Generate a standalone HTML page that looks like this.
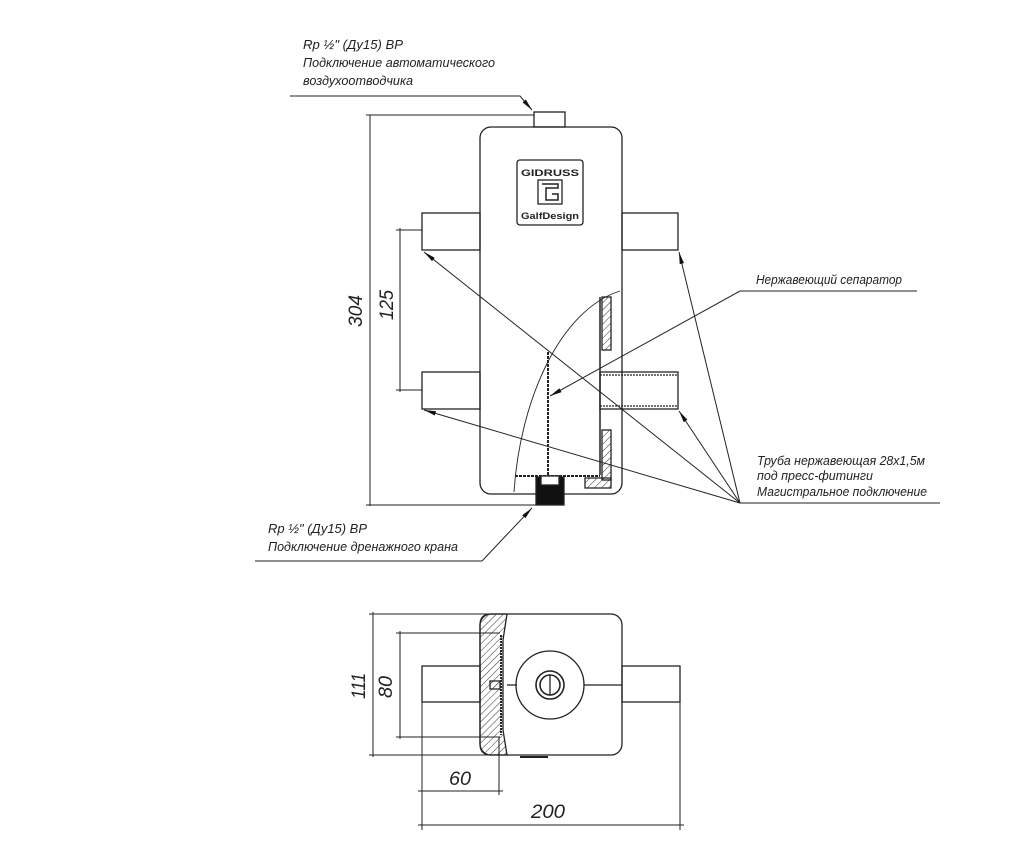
<!DOCTYPE html>
<html><head><meta charset="utf-8"><style>
html,body{margin:0;padding:0;background:#fff;}
svg{display:block;}
text{font-family:"Liberation Sans","DejaVu Sans",sans-serif;font-style:italic;fill:#222;}
</style></head><body>
<svg width="1024" height="849" viewBox="0 0 1024 849" xmlns="http://www.w3.org/2000/svg">
<defs>
<pattern id="h" width="5" height="5" patternUnits="userSpaceOnUse" patternTransform="rotate(45)">
<line x1="0" y1="0" x2="0" y2="5" stroke="#333" stroke-width="1"/></pattern>
<marker id="a" markerWidth="12" markerHeight="6" refX="12" refY="3" orient="auto" markerUnits="userSpaceOnUse">
<path d="M0,0.8 L12,3 L0,5.2 Z" fill="#111"/></marker>
</defs>
<g fill="none" stroke="#222" stroke-width="1.3">
<!-- main body front view -->
<rect x="480" y="127" width="142" height="367" rx="11"/>
<rect x="534" y="112" width="31" height="15"/>
<!-- pipes -->
<rect x="422" y="213" width="58" height="37"/>
<rect x="422" y="372" width="58" height="37"/>
<rect x="622" y="213" width="56" height="37"/>
<rect x="600" y="372" width="78" height="37"/>
<line x1="600" y1="375" x2="678" y2="375" stroke-dasharray="2 1"/>
<line x1="600" y1="406" x2="678" y2="406" stroke-dasharray="2 1"/>
<!-- section arc -->
<path d="M514,492 C520,400 560,310 620,291" stroke-width="0.9"/>
<line x1="548" y1="352" x2="548" y2="475" stroke-width="2" stroke-dasharray="3 1"/>
<line x1="600" y1="297" x2="600" y2="475" stroke-width="1.5"/>
<line x1="515" y1="476" x2="600" y2="476" stroke-width="2" stroke-dasharray="3 1"/>
<rect x="602" y="297" width="9" height="53" fill="url(#h)"/>
<rect x="602" y="430" width="9" height="50" fill="url(#h)"/>
<path d="M585,478 L611,478 L611,488 L585,488 Z" fill="url(#h)"/>
<rect x="536" y="477" width="28" height="28" fill="#111"/>
<rect x="541" y="476" width="18" height="9" fill="#fff"/>
<!-- logo -->
<rect x="517" y="160" width="66" height="65" rx="3"/>
<rect x="538" y="180" width="24" height="24"/>
<path d="M542,184 h16 v4 h-12 v12 h12 v-6 h-6" stroke-width="1.5"/>
<!-- dim 304 -->
<line x1="370" y1="115" x2="370" y2="506" stroke-width="1"/>
<line x1="366" y1="115" x2="534" y2="115" stroke-width="1"/>
<line x1="366" y1="505" x2="536" y2="505" stroke-width="1"/>
<!-- dim 125 -->
<line x1="400" y1="228" x2="400" y2="392" stroke-width="1"/>
<line x1="396" y1="230" x2="422" y2="230" stroke-width="1"/>
<line x1="396" y1="390" x2="422" y2="390" stroke-width="1"/>
</g>
<g fill="none" stroke="#222" stroke-width="1">
<!-- leaders -->
<polyline points="290,96 520,96 532,110" marker-end="url(#a)"/>
<polyline points="917,291 740,291 550,396" marker-end="url(#a)"/>
<line x1="740" y1="503" x2="940" y2="503"/>
<line x1="740" y1="503" x2="679" y2="252" marker-end="url(#a)"/>
<line x1="740" y1="503" x2="679" y2="411" marker-end="url(#a)"/>
<line x1="740" y1="503" x2="424" y2="252" marker-end="url(#a)"/>
<line x1="740" y1="503" x2="424" y2="410" marker-end="url(#a)"/>
<polyline points="255,561 482,561 532,508" marker-end="url(#a)"/>
</g>
<!-- bottom view -->
<g fill="none" stroke="#222" stroke-width="1.3">
<rect x="480" y="614" width="142" height="141" rx="11"/>
<path d="M491,614 L507,614 L503,640 L503,730 L507,755 L491,755 Q480,755 480,744 L480,625 Q480,614 491,614 Z" fill="url(#h)"/>
<line x1="501" y1="635" x2="501" y2="735" stroke-width="2" stroke-dasharray="2 1"/>
<rect x="490" y="681" width="10" height="8" fill="url(#h)"/>
<rect x="422" y="666" width="58" height="36"/>
<rect x="622" y="666" width="58" height="36"/>
<line x1="507" y1="685" x2="517" y2="685"/>
<line x1="584" y1="685" x2="622" y2="685"/>
<circle cx="550" cy="685" r="34"/>
<circle cx="550" cy="685" r="14" stroke-width="1.6"/>
<circle cx="550" cy="685" r="10" stroke-width="1.6"/>
<line x1="550" y1="675" x2="550" y2="695"/>
<line x1="520" y1="757" x2="548" y2="757" stroke-width="2"/>
</g>
<g fill="none" stroke="#222" stroke-width="1">
<line x1="373" y1="612" x2="373" y2="757"/>
<line x1="369" y1="614" x2="490" y2="614"/>
<line x1="369" y1="755" x2="490" y2="755"/>
<line x1="400" y1="631" x2="400" y2="739"/>
<line x1="396" y1="633" x2="500" y2="633"/>
<line x1="396" y1="737" x2="500" y2="737"/>
<line x1="422" y1="702" x2="422" y2="830"/>
<line x1="680" y1="702" x2="680" y2="830"/>
<line x1="499" y1="737" x2="499" y2="795"/>
<line x1="418" y1="791" x2="503" y2="791"/>
<line x1="418" y1="825" x2="684" y2="825"/>
</g>
<!-- texts -->
<g font-size="13">
<text x="303" y="49" textLength="100" lengthAdjust="spacingAndGlyphs">Rp ½" (Ду15) ВР</text>
<text x="303" y="67" textLength="192" lengthAdjust="spacingAndGlyphs">Подключение автоматического</text>
<text x="303" y="85" textLength="110" lengthAdjust="spacingAndGlyphs">воздухоотводчика</text>
<text x="756" y="284" textLength="146" lengthAdjust="spacingAndGlyphs">Нержавеющий сепаратор</text>
<text x="757" y="465" textLength="168" lengthAdjust="spacingAndGlyphs">Труба нержавеющая 28x1,5м</text>
<text x="757" y="480" textLength="116" lengthAdjust="spacingAndGlyphs">под пресс-фитинги</text>
<text x="757" y="496" textLength="170" lengthAdjust="spacingAndGlyphs">Магистральное подключение</text>
<text x="268" y="533" textLength="99" lengthAdjust="spacingAndGlyphs">Rp ½" (Ду15) ВР</text>
<text x="268" y="551" textLength="190" lengthAdjust="spacingAndGlyphs">Подключение дренажного крана</text>
</g>
<g font-size="19">
<text transform="translate(362,327) rotate(-90)" textLength="32" lengthAdjust="spacingAndGlyphs">304</text>
<text transform="translate(393,320) rotate(-90)" textLength="30" lengthAdjust="spacingAndGlyphs">125</text>
<text transform="translate(365,699) rotate(-90)" textLength="26" lengthAdjust="spacingAndGlyphs">111</text>
<text transform="translate(392,698) rotate(-90)" textLength="22" lengthAdjust="spacingAndGlyphs">80</text>
<text x="449" y="785" textLength="22" lengthAdjust="spacingAndGlyphs">60</text>
<text x="531" y="818" textLength="34" lengthAdjust="spacingAndGlyphs">200</text>
</g>
<g font-size="9" font-weight="bold" font-style="normal">
<text x="521" y="176" style="font-style:normal" textLength="58" lengthAdjust="spacingAndGlyphs">GIDRUSS</text>
<text x="521" y="219" style="font-style:normal" textLength="58" lengthAdjust="spacingAndGlyphs">GalfDesign</text>
</g>
</svg>
</body></html>
